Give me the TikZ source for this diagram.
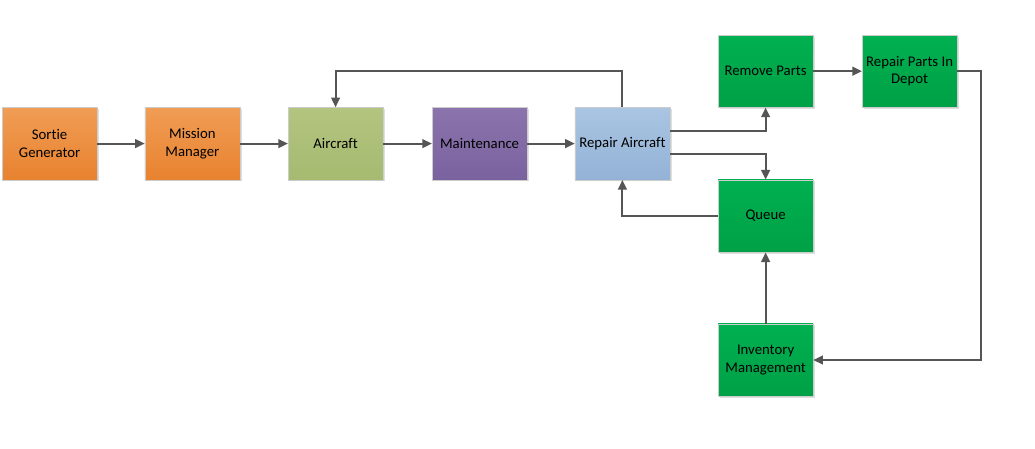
\documentclass[tikz,border=0pt]{standalone}
\usepackage{fontspec}
\setmainfont{Carlito}[Ligatures={NoCommon,TeX}]
\usepackage{xcolor}
\usepackage{tikz}
\usetikzlibrary{positioning,shapes,arrows.meta,calc,shadows}

\definecolor{orangetop}{HTML}{F09D55}
\definecolor{orangebot}{HTML}{E8822F}
\definecolor{olivetop}{HTML}{B3C47F}
\definecolor{olivebot}{HTML}{A6BA70}
\definecolor{purpletop}{HTML}{8B74AC}
\definecolor{purplebot}{HTML}{7A629F}
\definecolor{bluetop}{HTML}{A9C5E2}
\definecolor{bluebot}{HTML}{93B2D6}
\definecolor{greentop}{HTML}{00B050}
\definecolor{greenbot}{HTML}{00A146}
\definecolor{linegray}{HTML}{555555}

\begin{document}
\begin{tikzpicture}[
    box/.style={draw=black!20, line width=0.3pt, minimum width=2.375cm, minimum height=1.81cm,
        align=center, inner sep=1pt, font=\fontsize{10.5}{12.5}\selectfont,
        drop shadow={shadow xshift=0.04cm, shadow yshift=-0.04cm, opacity=0.25}},
    arrow/.style={-{Triangle[length=0.24cm, width=0.22cm]}, draw=linegray, line width=1.3pt}]

    \useasboundingbox (0,0) rectangle (25.875,-11.2);

    % Mission side
    \node[box, top color=orangetop, bottom color=orangebot] (sortie) at (1.24,-3.59) {Sortie\\Generator};
    \node[box, top color=orangetop, bottom color=orangebot] (mission) at (4.81,-3.59) {Mission\\Manager};

    % Aircraft and maintenance
    \node[box, top color=olivetop, bottom color=olivebot] (aircraft) at (8.39,-3.59) {Aircraft};
    \node[box, top color=purpletop, bottom color=purplebot] (maint) at (11.99,-3.59) {Maintenance};
    \node[box, top color=bluetop, bottom color=bluebot] (repair) at (15.56,-3.59) {Repair Aircraft};

    % Parts and supply
    \node[box, top color=greentop, bottom color=greenbot] (remove) at (19.14,-1.78) {Remove Parts};
    \node[box, top color=greentop, bottom color=greenbot] (depot) at (22.74,-1.78) {Repair Parts In\\Depot};
    \node[box, top color=greentop, bottom color=greenbot] (queue) at (19.14,-5.4) {Queue};
    \node[box, top color=greentop, bottom color=greenbot] (inventory) at (19.14,-9.0) {Inventory\\Management};

    % Connect components with arrows
    \draw[arrow] (sortie) -- (mission);
    \draw[arrow] (mission) -- (aircraft);
    \draw[arrow] (aircraft) -- (maint);
    \draw[arrow] (maint) -- (repair);
    \draw[arrow] (repair.north) -- ++(0,0.9) -| (aircraft.north);
    \draw[arrow] ([yshift=0.31cm]repair.east) -| (remove.south);
    \draw[arrow] ([yshift=-0.27cm]repair.east) -| (queue.north);
    \draw[arrow] (queue.west) -| (repair.south);
    \draw[arrow] (remove) -- (depot);
    \draw[arrow] (depot.east) -- ++(0.6,0) |- (inventory.east);
    \draw[arrow] (inventory) -- (queue);
\end{tikzpicture}
\end{document}
